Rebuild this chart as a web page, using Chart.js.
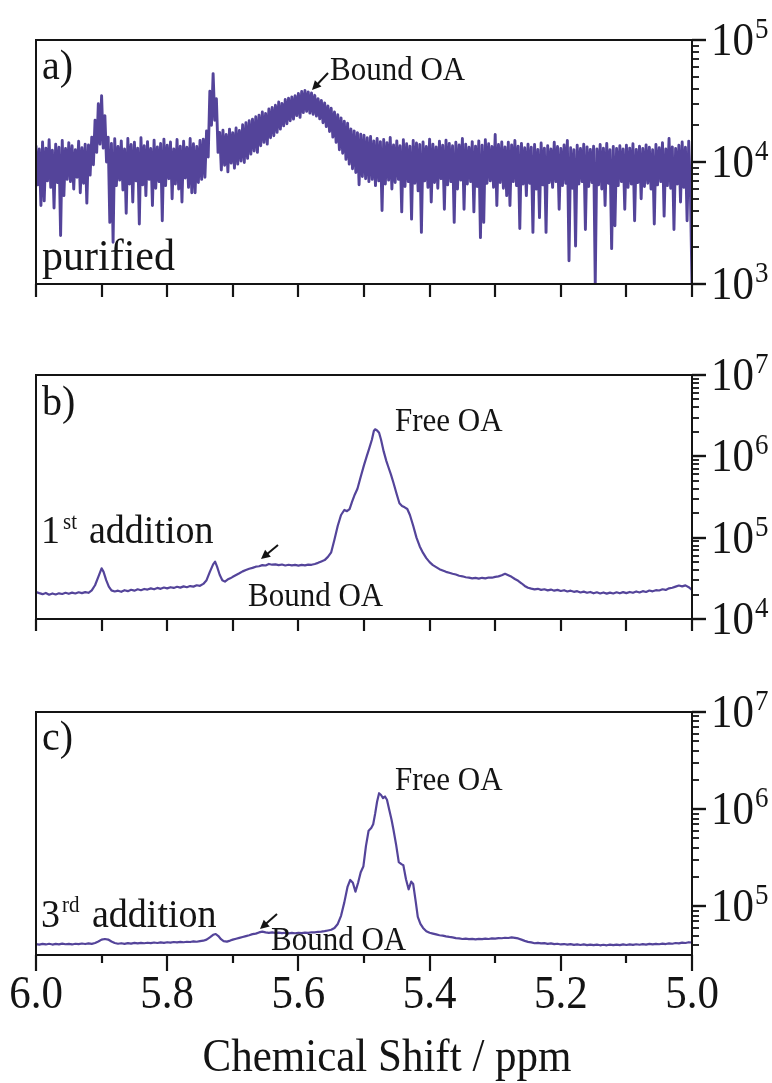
<!DOCTYPE html>
<html><head><meta charset="utf-8">
<script src="https://cdn.jsdelivr.net/npm/chart.js@4.4.1/dist/chart.umd.min.js"></script>
<style>
html,body{margin:0;padding:0;background:#fff;}
#fig{position:relative;width:772px;height:1083px;overflow:hidden;background:#fff}
canvas{position:absolute;left:0}
</style></head><body><div id="fig">
<canvas id="ca" width="772" height="330" style="top:0px"></canvas>
<canvas id="cb" width="772" height="330" style="top:330px"></canvas>
<canvas id="cc" width="772" height="423" style="top:660px"></canvas>
</div>
<script>
// ---------------- DATA ----------------
// x axis: chemical shift (ppm), reversed 6.0 -> 5.0
const xTickValues = [6.0, 5.8, 5.6, 5.4, 5.2, 5.0];
const xTickLabels = ['6.0', '5.8', '5.6', '5.4', '5.2', '5.0'];
const xMinorValues = [5.9, 5.7, 5.5, 5.3, 5.1];
const xTitle = 'Chemical Shift / ppm';

// Panel a (purified): sampled every 0.0025 ppm starting at 6.0 ppm, intensity in units of 10^3
const stepA = 0.0025;
const intA = [
 13.5, 6.5, 12.8, 4.4, 14.6, 4.8, 13.0, 7.0, 15.2, 6.2, 12.5, 4.2, 14.0, 6.8, 13.2, 2.5, 15.0, 5.3, 12.9, 7.2,
 14.4, 6.9, 13.6, 6.0, 12.6, 7.5, 14.8, 5.6, 13.1, 6.7, 14.0, 4.6, 13.8, 7.8, 16.0, 9.5, 22.0, 12.0, 30.0, 14.0,
 35.0, 13.0, 24.0, 10.0, 16.0, 3.2, 14.2, 2.2, 15.5, 6.4, 13.4, 7.1, 14.9, 5.9, 12.8, 3.8, 15.6, 6.6, 13.9, 4.7,
 14.5, 7.0, 13.0, 3.1, 15.8, 6.5, 13.6, 5.3, 14.7, 7.2, 12.9, 4.4, 15.1, 6.1, 13.3, 6.9, 14.2, 3.3, 15.4, 6.4,
 13.7, 7.3, 14.6, 5.0, 12.8, 6.6, 15.3, 6.0, 13.5, 4.7, 14.8, 7.4, 13.2, 6.2, 15.6, 5.6, 14.1, 5.6, 13.4, 6.8,
 15.0, 7.2, 15.4, 7.5, 18.0, 11.0, 38.0, 20.0, 53.0, 22.0, 33.0, 12.0, 17.5, 8.6, 18.2, 9.4, 16.8, 8.3, 18.6, 9.8,
 17.4, 8.9, 19.0, 9.6, 18.1, 10.2, 20.2, 9.9, 21.0, 10.7, 21.8, 11.6, 22.4, 12.3, 23.5, 12.0, 24.2, 13.6, 25.7, 14.5,
 25.0, 14.0, 27.2, 15.8, 28.0, 16.4, 29.2, 17.5, 31.0, 18.6, 30.2, 19.8, 32.6, 20.6, 33.4, 21.8, 34.2, 22.5, 35.0, 24.0,
 36.5, 23.2, 37.8, 25.4, 38.6, 26.0, 37.5, 25.2, 36.8, 24.6, 35.2, 23.8, 33.0, 22.6, 32.0, 21.0, 30.5, 19.5, 28.8, 17.8,
 27.6, 16.0, 25.7, 14.5, 24.4, 12.6, 23.0, 11.8, 21.6, 10.5, 20.8, 9.6, 18.7, 8.8, 18.0, 8.2, 17.4, 6.5, 16.9, 7.6,
 16.6, 7.3, 15.8, 6.9, 16.2, 7.2, 14.9, 6.4, 15.6, 7.0, 14.7, 4.0, 15.3, 6.6, 14.4, 7.1, 15.9, 6.0, 13.8, 6.8,
 14.9, 7.2, 13.6, 3.9, 15.2, 6.3, 14.1, 6.9, 13.5, 3.4, 15.0, 6.7, 14.3, 5.8, 13.9, 2.65, 14.6, 7.0, 13.4, 6.2,
 15.4, 4.7, 14.0, 6.8, 13.3, 6.1, 14.8, 7.3, 13.7, 4.1, 15.1, 6.5, 14.2, 6.9, 13.6, 3.2, 14.5, 6.0, 13.8, 7.1,
 15.6, 4.1, 14.0, 6.6, 13.2, 6.9, 14.7, 3.9, 13.5, 6.3, 14.9, 2.4, 13.7, 3.2, 15.2, 6.7, 14.1, 7.0, 13.4, 6.2,
 16.8, 4.4, 13.9, 6.8, 14.6, 6.1, 13.3, 5.3, 14.5, 4.4, 13.8, 6.9, 15.0, 6.4, 13.5, 2.85, 14.2, 6.6, 13.1, 5.3,
 14.0, 6.7, 13.2, 2.65, 13.9, 6.0, 12.7, 3.5, 14.3, 6.5, 13.0, 2.65, 13.6, 6.8, 12.8, 6.2, 14.5, 6.9, 13.4, 4.1,
 12.9, 6.4, 13.8, 6.7, 15.0, 1.55, 13.1, 6.1, 12.6, 2.05, 13.7, 6.6, 12.9, 6.9, 14.0, 2.8, 13.3, 6.3, 12.7, 6.8,
 13.5, 1.0, 12.8, 6.5, 13.9, 6.0, 13.0, 4.4, 14.2, 6.7, 12.6, 1.95, 13.4, 3.0, 12.9, 6.4, 13.6, 6.9, 12.8, 4.1,
 13.7, 6.2, 13.0, 6.6, 14.1, 3.3, 12.7, 6.8, 13.5, 5.0, 12.9, 6.3, 13.8, 6.7, 13.2, 6.0, 12.6, 3.1, 13.9, 6.5,
 13.1, 6.9, 14.4, 3.6, 12.8, 6.4, 15.6, 6.1, 13.3, 2.8, 12.9, 6.6, 13.7, 4.7, 14.6, 6.2, 13.2, 3.3, 14.8, 6.0,
 1.0
];

// Panel b (1st addition): chemical shift (ppm) and intensity in units of 10^3
const shiftB = [
 6.000, 5.995, 5.990, 5.985, 5.980, 5.975, 5.970, 5.965, 5.960, 5.955, 5.950, 5.945, 5.940, 5.935, 5.930, 5.925, 5.920,
 5.915, 5.910, 5.905, 5.900, 5.897, 5.893, 5.889, 5.885, 5.880, 5.875, 5.870, 5.865, 5.860, 5.855, 5.850, 5.845, 5.840,
 5.835, 5.830, 5.825, 5.820, 5.815, 5.810, 5.805, 5.800, 5.795, 5.790, 5.785, 5.780, 5.775, 5.770, 5.765, 5.760, 5.755,
 5.750, 5.745, 5.740, 5.735, 5.730, 5.727, 5.724, 5.720, 5.716, 5.712, 5.708, 5.704, 5.700, 5.695, 5.690, 5.685, 5.680,
 5.675, 5.670, 5.665, 5.660, 5.655, 5.650, 5.645, 5.640, 5.635, 5.630, 5.625, 5.620, 5.615, 5.610, 5.605, 5.600, 5.595,
 5.590, 5.585, 5.580, 5.575, 5.570, 5.565, 5.560, 5.555, 5.550, 5.545, 5.540, 5.535, 5.530, 5.526, 5.522, 5.518, 5.514,
 5.510, 5.505, 5.500, 5.496, 5.492, 5.488, 5.485, 5.483, 5.480, 5.477, 5.474, 5.470, 5.466, 5.463, 5.459, 5.455, 5.450,
 5.446, 5.442, 5.438, 5.434, 5.430, 5.425, 5.420, 5.415, 5.410, 5.405, 5.400, 5.395, 5.390, 5.385, 5.380, 5.375, 5.370,
 5.365, 5.360, 5.355, 5.350, 5.345, 5.340, 5.335, 5.330, 5.325, 5.320, 5.315, 5.310, 5.305, 5.300, 5.295, 5.290, 5.285,
 5.280, 5.275, 5.270, 5.265, 5.260, 5.255, 5.250, 5.245, 5.240, 5.235, 5.230, 5.225, 5.220, 5.215, 5.210, 5.205, 5.200,
 5.195, 5.190, 5.185, 5.180, 5.175, 5.170, 5.165, 5.160, 5.155, 5.150, 5.145, 5.140, 5.135, 5.130, 5.125, 5.120, 5.115,
 5.110, 5.105, 5.100, 5.095, 5.090, 5.085, 5.080, 5.075, 5.070, 5.065, 5.060, 5.055, 5.050, 5.045, 5.040, 5.035, 5.030,
 5.025, 5.020, 5.015, 5.010, 5.005, 5.000
];
const intB = [
 21.5, 20.8, 20.2, 20.9, 19.9, 20.6, 20.0, 20.7, 20.3, 21.0, 20.4, 21.1, 20.6, 21.3, 20.8, 21.4, 21.0,
 22.5, 26, 33, 42, 38, 30, 25, 22.5, 21.8, 22.3, 21.6, 22.6, 22.0, 22.9, 22.3, 23.2, 22.6,
 23.4, 23.0, 23.8, 23.2, 24.1, 23.5, 24.4, 23.8, 24.6, 24.1, 24.9, 24.3, 25.2, 24.6, 25.4, 25.0, 26.0,
 25.6, 27.0, 30, 38, 47, 50.7, 44, 35, 30, 28.8, 30.5, 31.6, 33, 34.7, 36.5, 38.5, 40,
 41.5, 42.5, 44, 44.5, 46, 45.5, 47.5, 46.5, 47, 46, 46.8, 45.5, 46.4, 45.6, 46.2, 45.4, 46.3,
 45.6, 46.6, 46.4, 47.5, 49, 51, 53, 58, 66, 95, 140, 190, 219, 212, 225, 280, 340,
 400, 560, 780, 990, 1250, 1600, 2050, 2150, 2080, 1950, 1600, 1150, 880, 745, 600, 470, 340,
 265, 245, 236, 225, 190, 140, 100, 78, 65, 56, 50, 46, 43.5, 41, 39.5, 38, 37,
 36, 35.2, 34, 33.5, 32.6, 32.2, 31.6, 32.0, 31.4, 32.1, 31.6, 32.4, 32.2, 33, 33.4, 34.5, 36,
 34.5, 33, 31, 29.5, 27.5, 25.5, 24.2, 23.6, 23.1, 23.5, 22.8, 23.2, 22.5, 23.0, 22.3, 22.8, 22.1,
 22.6, 21.8, 22.3, 21.6, 22.0, 21.2, 21.7, 21.0, 21.5, 20.7, 21.3, 20.6, 21.2, 20.5, 21.1, 20.6, 21.3,
 20.7, 21.4, 20.8, 21.5, 21.0, 21.8, 21.2, 22.0, 21.5, 22.4, 21.9, 22.6, 22.4, 23.2, 22.8, 23.8, 24.2,
 25.0, 25.8, 25.2, 25.9, 24.6, 22.8
];

// Panel c (3rd addition): chemical shift (ppm) and intensity in units of 10^3
const shiftC = [
 6.000, 5.995, 5.990, 5.985, 5.980, 5.975, 5.970, 5.965, 5.960, 5.955, 5.950, 5.945, 5.940, 5.935, 5.930, 5.925, 5.920,
 5.915, 5.910, 5.905, 5.900, 5.895, 5.890, 5.885, 5.880, 5.875, 5.870, 5.865, 5.860, 5.855, 5.850, 5.845, 5.840, 5.835,
 5.830, 5.825, 5.820, 5.815, 5.810, 5.805, 5.800, 5.795, 5.790, 5.785, 5.780, 5.775, 5.770, 5.765, 5.760, 5.755, 5.750,
 5.745, 5.740, 5.735, 5.730, 5.726, 5.722, 5.718, 5.714, 5.709, 5.704, 5.700, 5.695, 5.690, 5.685, 5.680, 5.675, 5.670,
 5.665, 5.660, 5.655, 5.650, 5.645, 5.640, 5.635, 5.630, 5.625, 5.620, 5.615, 5.610, 5.605, 5.600, 5.595, 5.590, 5.585,
 5.580, 5.575, 5.570, 5.565, 5.560, 5.555, 5.550, 5.545, 5.540, 5.535, 5.530, 5.525, 5.521, 5.517, 5.513, 5.509, 5.505,
 5.501, 5.497, 5.493, 5.489, 5.486, 5.483, 5.480, 5.477, 5.474, 5.471, 5.468, 5.465, 5.461, 5.458, 5.455, 5.451, 5.447,
 5.443, 5.440, 5.436, 5.432, 5.428, 5.425, 5.421, 5.418, 5.414, 5.410, 5.405, 5.400, 5.395, 5.390, 5.385, 5.380, 5.375,
 5.370, 5.365, 5.360, 5.355, 5.350, 5.345, 5.340, 5.335, 5.330, 5.325, 5.320, 5.315, 5.310, 5.305, 5.300, 5.295, 5.290,
 5.285, 5.280, 5.275, 5.270, 5.265, 5.260, 5.255, 5.250, 5.245, 5.240, 5.235, 5.230, 5.225, 5.220, 5.215, 5.210, 5.205,
 5.200, 5.195, 5.190, 5.185, 5.180, 5.175, 5.170, 5.165, 5.160, 5.155, 5.150, 5.145, 5.140, 5.135, 5.130, 5.125, 5.120,
 5.115, 5.110, 5.105, 5.100, 5.095, 5.090, 5.085, 5.080, 5.075, 5.070, 5.065, 5.060, 5.055, 5.050, 5.045, 5.040, 5.035,
 5.030, 5.025, 5.020, 5.015, 5.010, 5.005, 5.000
];
const intC = [
 41.0, 40.4, 41.2, 40.6, 41.3, 40.5, 41.1, 40.7, 41.4, 40.8, 41.2, 40.6, 41.3, 40.9, 41.5, 41.0, 41.6,
 41.2, 42.0, 43.5, 45.5, 46.2, 45.6, 43.5, 42.0, 41.3, 41.8, 41.2, 41.9, 41.4, 42.1, 41.6, 42.2, 41.8,
 42.3, 41.9, 42.5, 42.0, 42.6, 42.2, 42.8, 42.4, 43.0, 42.6, 43.1, 42.8, 43.3, 43.0, 43.6, 43.3, 44.0,
 44.4, 45.5, 48, 51, 52, 49.5, 46, 44, 43.4, 44.5, 45.5, 46.5, 47.5, 48.5, 49.5, 50.5, 51.8,
 52.5, 54, 55, 54, 53.5, 54, 53.2, 53.8, 53, 53.6, 52.8, 53.4, 52.9, 53.4, 53.0, 53.8, 53.4,
 54.2, 54.0, 54.8, 55, 55.6, 56.5, 57.5, 60, 66, 80, 110, 160, 187, 175, 142, 175, 225,
 257, 420, 600, 640, 700, 900, 1200, 1460, 1400, 1300, 1350, 1250, 950, 780, 610, 430, 285,
 272, 265, 190, 150, 180, 170, 110, 78, 66, 60, 55.5, 53.5, 52.5, 51.5, 50.5, 50, 49.2,
 48.5, 48, 47.2, 46.8, 46.2, 46.6, 46.0, 46.4, 45.8, 46.4, 46.0, 46.6, 46.2, 46.9, 46.7, 47.2, 47.0,
 47.6, 47.3, 48.0, 47.5, 46.8, 45.5, 44.2, 43.2, 42.6, 41.8, 42.2, 41.6, 41.9, 41.2, 41.6, 40.9, 41.3,
 40.6, 41.0, 40.4, 40.9, 40.2, 40.7, 40.1, 40.6, 40.0, 40.5, 39.9, 40.4, 39.8, 40.3, 39.8, 40.4, 39.9,
 40.5, 40.0, 40.6, 40.1, 40.7, 40.2, 40.8, 40.3, 40.9, 40.5, 41.1, 40.6, 41.2, 40.8, 41.4, 41.0, 41.6,
 41.3, 42.0, 41.6, 42.4, 42.0, 42.8, 42.5
];
const shiftA = intA.map((_, i) => +(6 - i * stepA).toFixed(4));

// y-axis decades shown as labels (10^n)
const decadesA = [3, 4, 5];
const decadesB = [4, 5, 6, 7];
const decadesC = [5, 6, 7];

// ---------------- DRAWING ----------------
const SERIF = '"Liberation Serif", "Times New Roman", serif';
const INK = '#141414';
const LINE = '#54449a';
const STRETCH = 1.06;

function text(ctx, s, x, y, size, align) {
  ctx.save();
  ctx.font = size + 'px ' + SERIF;
  ctx.textAlign = align || 'left';
  ctx.textBaseline = 'alphabetic';
  ctx.fillStyle = INK;
  ctx.translate(x, y);
  ctx.scale(1, STRETCH);
  ctx.fillText(s, 0, 0);
  ctx.restore();
}
function arrow(ctx, x1, y1, x2, y2) {
  const a = Math.atan2(y2 - y1, x2 - x1), L = 9, W = 4.5;
  ctx.strokeStyle = INK; ctx.fillStyle = INK; ctx.lineWidth = 2;
  ctx.beginPath(); ctx.moveTo(x1, y1);
  ctx.lineTo(x2 - L * 0.8 * Math.cos(a), y2 - L * 0.8 * Math.sin(a)); ctx.stroke();
  ctx.beginPath(); ctx.moveTo(x2, y2);
  ctx.lineTo(x2 - L * Math.cos(a) + W * Math.sin(a), y2 - L * Math.sin(a) - W * Math.cos(a));
  ctx.lineTo(x2 - L * Math.cos(a) - W * Math.sin(a), y2 - L * Math.sin(a) + W * Math.cos(a));
  ctx.closePath(); ctx.fill();
}

function makeFrame(p) {
  return {
    id: 'frame_' + p.id,
    afterDraw(chart) {
      const ctx = chart.ctx, xs = chart.scales.x, ys = chart.scales.y;
      const { left, right, top, bottom } = chart.chartArea;
      const off = p.top;
      ctx.save();
      ctx.strokeStyle = INK; ctx.lineWidth = 2;
      ctx.strokeRect(left, top, right - left, bottom - top);
      // x ticks (outward, below)
      ctx.lineWidth = 2.2;
      xTickValues.forEach(v => {
        const px = Math.round(xs.getPixelForValue(v));
        ctx.beginPath(); ctx.moveTo(px, bottom); ctx.lineTo(px, bottom + p.xMajorLen); ctx.stroke();
      });
      xMinorValues.forEach(v => {
        const px = Math.round(xs.getPixelForValue(v));
        ctx.beginPath(); ctx.moveTo(px, bottom); ctx.lineTo(px, bottom + p.xMinorLen); ctx.stroke();
      });
      // y ticks on right (log)
      const lo = Math.log10(ys.min) - 1e-9, hi = Math.log10(ys.max) + 1e-9;
      for (let n = Math.floor(lo); n <= Math.ceil(hi); n++) {
        for (let m = 1; m <= 9; m++) {
          const v = m * Math.pow(10, n), lv = Math.log10(v);
          if (lv < lo || lv > hi) continue;
          const py = Math.round(ys.getPixelForValue(v));
          ctx.lineWidth = m === 1 ? 2.4 : 1.8;
          ctx.beginPath(); ctx.moveTo(right, py); ctx.lineTo(right + (m === 1 ? 14 : 7), py); ctx.stroke();
        }
      }
      // y labels 10^n
      p.decades.forEach(n => {
        const py = ys.getPixelForValue(Math.pow(10, n));
        text(ctx, '10', right + 19, py + 15, 43);
        ctx.font = '43px ' + SERIF;
        const w = ctx.measureText('10').width;
        text(ctx, String(n), right + 19 + w + 1, py - 2, 27);
      });
      // annotations (figure coordinates -> canvas coordinates)
      p.notes.forEach(t => {
        if (t.arrow) { arrow(ctx, t.arrow[0], t.arrow[1] - off, t.arrow[2], t.arrow[3] - off); return; }
        text(ctx, t.s, t.x, t.y - off, t.size, t.align);
      });
      if (p.xLabels) {
        xTickValues.forEach((v, i) => {
          text(ctx, xTickLabels[i], xs.getPixelForValue(v), 1008 - off, 43, 'center');
        });
        text(ctx, xTitle, 387, 1071 - off, 43, 'center');
      }
      ctx.restore();
    }
  };
}

const panels = [
  { id: 'a', canvas: 'ca', top: 0, height: 330, padTop: 40, padBottom: 46, yMin: 1e3, yMax: 1e5,
    decades: decadesA, xs: shiftA, ys: intA, lw: 2.9, xLabels: false, xMajorLen: 13, xMinorLen: 13,
    notes: [
      { s: 'a)', x: 42, y: 79, size: 40 },
      { s: 'purified', x: 42, y: 270, size: 42 },
      { s: 'Bound OA', x: 330, y: 80, size: 31 },
      { arrow: [328, 73, 312, 90] }
    ] },
  { id: 'b', canvas: 'cb', top: 330, height: 330, padTop: 45, padBottom: 41, yMin: 1e4, yMax: 1e7,
    decades: decadesB, xs: shiftB, ys: intB, lw: 2.2, xLabels: false, xMajorLen: 12, xMinorLen: 12,
    notes: [
      { s: 'b)', x: 42, y: 415, size: 40 },
      { s: 'Free OA', x: 395, y: 431, size: 31 },
      { s: '1', x: 41, y: 543, size: 38 },
      { s: 'st', x: 63, y: 529, size: 21 },
      { s: 'addition', x: 89, y: 543, size: 38 },
      { s: 'Bound OA', x: 248, y: 606, size: 31 },
      { arrow: [278, 545, 261, 559] }
    ] },
  { id: 'c', canvas: 'cc', top: 660, height: 423, padTop: 52, padBottom: 128, yMin: 31623, yMax: 1e7,
    decades: decadesC, xs: shiftC, ys: intC, lw: 2.2, xLabels: true, xMajorLen: 16, xMinorLen: 8,
    notes: [
      { s: 'c)', x: 42, y: 750, size: 40 },
      { s: 'Free OA', x: 395, y: 790, size: 31 },
      { s: '3', x: 41, y: 927, size: 38 },
      { s: 'rd', x: 62, y: 912, size: 21 },
      { s: 'addition', x: 92, y: 927, size: 38 },
      { s: 'Bound OA', x: 271, y: 950, size: 31 },
      { arrow: [277, 914, 260, 929] }
    ] }
];

panels.forEach(p => {
  const data = p.xs.map((x, i) => ({ x: x, y: p.ys[i] * 1e3 }));
  new Chart(document.getElementById(p.canvas), {
    type: 'line',
    data: { datasets: [{ data: data, borderColor: LINE, borderWidth: p.lw, pointRadius: 0,
      tension: 0, fill: false, borderJoinStyle: 'round', borderCapStyle: 'round' }] },
    options: {
      responsive: false, animation: false, devicePixelRatio: 1,
      layout: { padding: { left: 36, right: 80, top: p.padTop, bottom: p.padBottom } },
      plugins: { legend: { display: false }, tooltip: { enabled: false } },
      scales: {
        x: { type: 'linear', reverse: true, min: 5.0, max: 6.0, display: false },
        y: { type: 'logarithmic', min: p.yMin, max: p.yMax, display: false }
      }
    },
    plugins: [makeFrame(p)]
  });
});
</script></body></html>
